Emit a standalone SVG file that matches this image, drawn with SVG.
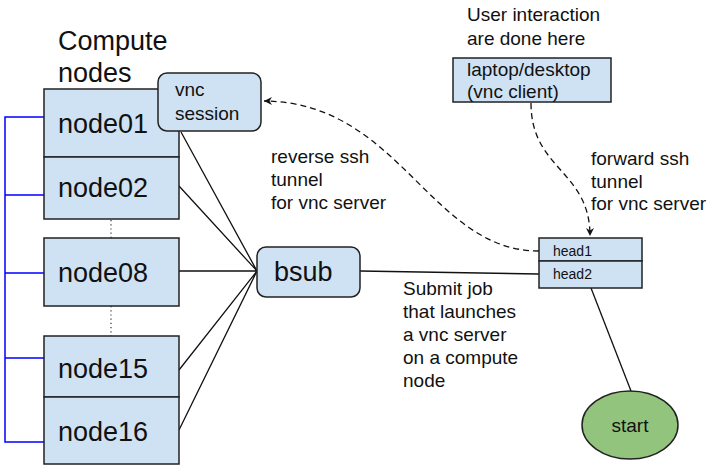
<svg xmlns="http://www.w3.org/2000/svg" width="714" height="472" viewBox="0 0 714 472">
<style>
text{font-family:"Liberation Sans",Arial,sans-serif;fill:#111}
.box{fill:#cfe2f3;stroke:#222;stroke-width:1.5}
.big{font-size:27px}
.mid{font-size:19px}
.sm{font-size:14px}
.ln{stroke:#111;stroke-width:1.3;fill:none}
.dash{stroke:#111;stroke-width:1.3;fill:none;stroke-dasharray:6 4}
.dot{stroke:#333;stroke-width:1.2;stroke-dasharray:1.2 3}
.blue{stroke:#0000ff;stroke-width:1.5;fill:none}
</style>
<defs>
<marker id="arr" markerWidth="10" markerHeight="10" refX="8" refY="5" orient="auto" markerUnits="userSpaceOnUse">
<path d="M0,1 L8,5 L0,9 L2.5,5 z" fill="#111"/>
</marker>
</defs>
<text class="big" x="58" y="50">Compute</text>
<text class="big" x="58" y="82">nodes</text>
<text class="mid" x="467" y="21">User interaction</text>
<text class="mid" x="467" y="45">are done here</text>
<g id="connectors">
<path class="blue" d="M44,117 H5 V442 H44 M5,195 H44 M5,273 H44 M5,358 H44"/>
<line class="dot" x1="111" y1="220" x2="111" y2="238"/>
<line class="dot" x1="111" y1="306" x2="111" y2="336"/>
<path class="ln" d="M181,132 L257,271 M179,186 L257,271 M179,271 L257,271 M179,370 L257,271 M179,430 L257,271"/>
<path class="ln" d="M360,271 L539,274"/>
<path class="ln" d="M591,288 L631,391"/>
<path class="dash" d="M539,251 C430,251 400,102 264,101" marker-end="url(#arr)"/>
<path class="dash" d="M531,103 C531,170 590,170 590,236" marker-end="url(#arr)"/>
</g>
<g id="node01"><rect class="box" x="44" y="89" width="135" height="68"/><text class="big" x="58" y="133">node01</text></g>
<g id="node02"><rect class="box" x="44" y="157" width="135" height="62"/><text class="big" x="58" y="197">node02</text></g>
<g id="node08"><rect class="box" x="44" y="238" width="135" height="68"/><text class="big" x="58" y="282">node08</text></g>
<g id="node15"><rect class="box" x="44" y="336" width="135" height="61"/><text class="big" x="58" y="378">node15</text></g>
<g id="node16"><rect class="box" x="44" y="397" width="135" height="67"/><text class="big" x="58" y="441">node16</text></g>
<g id="vnc-session"><rect class="box" x="158" y="73" width="103" height="58" rx="9"/><text class="mid" x="175" y="96">vnc</text><text class="mid" x="175" y="120">session</text></g>
<g id="bsub"><rect class="box" x="257" y="247" width="103" height="50" rx="9"/><text class="big" x="274" y="281">bsub</text></g>
<g id="laptop"><rect class="box" x="453" y="58" width="158" height="44"/><text class="mid" x="467" y="76">laptop/desktop</text><text class="mid" x="467" y="98">(vnc client)</text></g>
<g id="head1"><rect class="box" x="539" y="238" width="103" height="23"/><text class="sm" x="553" y="256">head1</text></g>
<g id="head2"><rect class="box" x="539" y="261" width="103" height="27"/><text class="sm" x="553" y="279">head2</text></g>
<g id="start"><ellipse cx="630" cy="425" rx="48" ry="34" fill="#93c47d" stroke="#222" stroke-width="1.5"/><text class="mid" x="630" y="432" text-anchor="middle">start</text></g>
<g id="labels">
<text class="mid" x="271" y="163">reverse ssh</text>
<text class="mid" x="271" y="186">tunnel</text>
<text class="mid" x="271" y="209">for vnc server</text>
<text class="mid" x="591" y="165">forward ssh</text>
<text class="mid" x="591" y="188">tunnel</text>
<text class="mid" x="591" y="210">for vnc server</text>
<text class="mid" x="403" y="295">Submit job</text>
<text class="mid" x="403" y="318">that launches</text>
<text class="mid" x="403" y="341">a vnc server</text>
<text class="mid" x="403" y="364">on a compute</text>
<text class="mid" x="403" y="387">node</text>
</g>
</svg>
